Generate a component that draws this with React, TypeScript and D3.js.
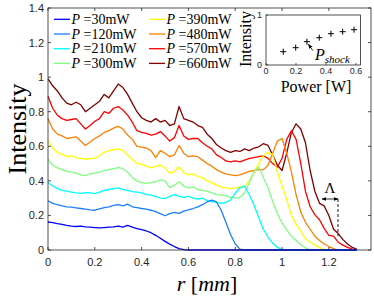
import React from 'react';
import * as d3 from 'd3';

// radial position of each sample [mm]
const radius = [
  0, 0.02, 0.04, 0.06, 0.08, 0.1, 0.12, 0.14, 0.16, 0.18,
  0.2, 0.22, 0.24, 0.26, 0.28, 0.3, 0.32, 0.34, 0.36, 0.38,
  0.4, 0.42, 0.44, 0.46, 0.48, 0.5, 0.52, 0.54, 0.56, 0.58,
  0.6, 0.62, 0.64, 0.66, 0.68, 0.7, 0.72, 0.74, 0.76, 0.78,
  0.8, 0.82, 0.84, 0.86, 0.88, 0.9, 0.92, 0.94, 0.96, 0.98,
  1, 1.02, 1.04, 1.06, 1.08, 1.1, 1.12, 1.14, 1.16, 1.18,
  1.2, 1.22, 1.24, 1.26, 1.28, 1.3, 1.32,
];

// intensity profiles, one per pump power
const p30 = [
  0.162, 0.158, 0.152, 0.148, 0.142, 0.138, 0.136, 0.138, 0.134, 0.132,
  0.13, 0.128, 0.13, 0.132, 0.134, 0.138, 0.132, 0.142, 0.132, 0.124,
  0.118, 0.11, 0.1, 0.085, 0.068, 0.05, 0.034, 0.02, 0.008, 0.002,
  0, 0, 0, 0, 0, 0, 0, 0, 0, 0,
  0, 0, 0, 0, 0, 0, 0, 0, 0, 0,
  0, 0, 0, 0, 0, 0, 0, 0, 0, 0,
  0, 0, 0, 0, 0, 0, 0,
];
const p120 = [
  0.285, 0.27, 0.262, 0.255, 0.25, 0.248, 0.244, 0.24, 0.236, 0.232,
  0.23, 0.238, 0.245, 0.25, 0.258, 0.262, 0.255, 0.265, 0.25, 0.245,
  0.24, 0.236, 0.23, 0.222, 0.21, 0.198, 0.21, 0.218, 0.212, 0.225,
  0.232, 0.24, 0.25, 0.262, 0.278, 0.288, 0.278, 0.23, 0.16, 0.09,
  0.035, 0.005, 0, 0, 0, 0, 0, 0, 0, 0,
  0, 0, 0, 0, 0, 0, 0, 0, 0, 0,
  0, 0, 0, 0, 0, 0, 0,
];
const p210 = [
  0.39, 0.37, 0.355, 0.345, 0.34, 0.335, 0.33, 0.328, 0.332, 0.33,
  0.326, 0.335, 0.345, 0.35, 0.355, 0.36, 0.35, 0.345, 0.338, 0.335,
  0.33, 0.32, 0.318, 0.31, 0.3, 0.298, 0.31, 0.32, 0.31, 0.305,
  0.31, 0.3, 0.295, 0.3, 0.285, 0.28, 0.275, 0.27, 0.275, 0.29,
  0.33, 0.36, 0.37, 0.32, 0.26, 0.19, 0.12, 0.075, 0.04, 0.015,
  0.003, 0, 0, 0, 0, 0, 0, 0, 0, 0,
  0, 0, 0, 0, 0, 0, 0,
];
const p300 = [
  0.525, 0.49, 0.475, 0.465, 0.455, 0.45, 0.445, 0.435, 0.43, 0.44,
  0.445, 0.45, 0.46, 0.465, 0.47, 0.478, 0.47, 0.45, 0.42, 0.4,
  0.39, 0.385, 0.39, 0.395, 0.405, 0.4, 0.36, 0.375, 0.395, 0.37,
  0.36, 0.365, 0.35, 0.345, 0.34, 0.33, 0.32, 0.318, 0.315, 0.305,
  0.3, 0.305, 0.33, 0.39, 0.45, 0.48, 0.42, 0.36, 0.28, 0.21,
  0.155, 0.115, 0.08, 0.055, 0.03, 0.012, 0, 0, 0, 0,
  0, 0, 0, 0, 0, 0, 0,
];
const p390 = [
  0.635, 0.59, 0.565, 0.555, 0.54, 0.545, 0.535, 0.53, 0.525, 0.53,
  0.53, 0.545, 0.565, 0.575, 0.58, 0.585, 0.575, 0.55, 0.525, 0.5,
  0.495, 0.485, 0.475, 0.485, 0.49, 0.475, 0.445, 0.455, 0.48, 0.45,
  0.435, 0.44, 0.425, 0.42, 0.4, 0.39, 0.375, 0.365, 0.36, 0.355,
  0.36, 0.365, 0.37, 0.4, 0.45, 0.5, 0.545, 0.565, 0.55, 0.45,
  0.37, 0.29, 0.2, 0.15, 0.11, 0.065, 0.045, 0.03, 0.015, 0.003,
  0, 0, 0, 0, 0, 0, 0,
];
const p480 = [
  0.76, 0.7, 0.67, 0.66, 0.645, 0.65, 0.655, 0.63, 0.605, 0.625,
  0.645, 0.66, 0.68, 0.69, 0.705, 0.715, 0.7, 0.665, 0.64, 0.6,
  0.595, 0.59, 0.575, 0.535, 0.575, 0.56, 0.54, 0.55, 0.605, 0.56,
  0.54, 0.545, 0.54, 0.52, 0.5, 0.485, 0.465, 0.45, 0.44, 0.435,
  0.43, 0.435, 0.445, 0.455, 0.46, 0.465, 0.465, 0.49, 0.56, 0.63,
  0.645, 0.56, 0.45, 0.32, 0.22, 0.16, 0.12, 0.08, 0.055, 0.035,
  0.02, 0.008, 0, 0, 0, 0, 0,
];
const p570 = [
  0.89, 0.82, 0.78, 0.76, 0.75, 0.755, 0.76, 0.73, 0.7, 0.72,
  0.745, 0.76, 0.8, 0.79, 0.82, 0.83, 0.81, 0.78, 0.74, 0.69,
  0.68, 0.675, 0.665, 0.67, 0.685, 0.66, 0.63, 0.65, 0.72, 0.66,
  0.64, 0.645, 0.645, 0.62, 0.6, 0.585, 0.55, 0.535, 0.515, 0.51,
  0.515, 0.51, 0.52, 0.53, 0.535, 0.54, 0.545, 0.53, 0.5, 0.48,
  0.53, 0.64, 0.69, 0.64, 0.5, 0.34, 0.25, 0.205, 0.175, 0.125,
  0.085, 0.08, 0.045, 0.028, 0.015, 0.005, 0,
];
const p660 = [
  0.99, 0.95, 0.92, 0.88, 0.85, 0.84, 0.855, 0.84, 0.8, 0.82,
  0.84, 0.86, 0.9, 0.88, 0.92, 0.96, 0.94, 0.9, 0.85, 0.8,
  0.765, 0.75, 0.74, 0.76, 0.74, 0.75, 0.72, 0.73, 0.83, 0.76,
  0.75, 0.74, 0.72, 0.71, 0.67, 0.645, 0.61, 0.59, 0.575, 0.565,
  0.575, 0.57, 0.585, 0.575, 0.59, 0.597, 0.615, 0.605, 0.55, 0.49,
  0.46, 0.56, 0.68, 0.73, 0.7, 0.62, 0.46, 0.34, 0.27, 0.255,
  0.2, 0.12, 0.095, 0.06, 0.035, 0.015, 0.004,
];

const powerLabels = ['30', '120', '210', '300', '390', '480', '570', '660'];
const profiles = [p30, p120, p210, p300, p390, p480, p570, p660];
const colors = ['#0000ff', '#1a80ff', '#00ffff', '#80ff80', '#ffff00', '#ff8000', '#ff0000', '#800000'];

const xTicks = [0, 0.2, 0.4, 0.6, 0.8, 1, 1.2];
const yTicks = [0, 0.2, 0.4, 0.6, 0.8, 1, 1.2, 1.4];

// inset: shock intensity vs power
const insetPower = [0.115, 0.198, 0.273, 0.355, 0.433, 0.511, 0.587];
const insetIntensity = [0.266, 0.346, 0.466, 0.546, 0.626, 0.666, 0.706];
const insetXTicks = [0, 0.2, 0.4, 0.6];
const insetYTicks = [0, 1];

// Lambda marker (data coords)
const lambdaR = [1.171, 1.239];
const lambdaI = [0.295, 0.08];

const SANS = '"Liberation Sans", Arial, sans-serif';
const SERIF = '"Liberation Serif", "Times New Roman", serif';
const AX = '#262626';

export default function App() {
  const W = 374;
  const H = 301;
  const x = d3.scaleLinear().domain([0, 1.38]).range([48, 371]);
  const y = d3.scaleLinear().domain([0, 1.4]).range([250, 8]);
  const ix = d3.scaleLinear().domain([0, 0.63]).range([266, 360.5]);
  const iy = d3.scaleLinear().domain([0, 1]).range([65, 15]);

  const line = d3.line<number>()
    .x((_, i) => x(radius[i]))
    .y(d => y(d));

  const [x0, x1] = x.range();
  const [y0, y1] = y.range();
  const [ix0, ix1] = ix.range();
  const [iy0, iy1] = iy.range();

  // draw high power first so the low power traces sit on top at the baseline
  const order = d3.range(profiles.length).reverse();

  return (
    <svg width={W} height={H} style={{ position: 'absolute', left: 0, top: 0, background: '#fff' }}>
      <defs>
        <marker id="ah" viewBox="0 0 10 10" refX="9" refY="5" markerWidth="6" markerHeight="6" orient="auto-start-reverse">
          <path d="M0,1 L10,5 L0,9 z" fill="#000" />
        </marker>
      </defs>

      {order.map(k => (
        <path key={k} d={line(profiles[k]) || ''} fill="none" stroke={colors[k]} strokeWidth={1.3} strokeLinejoin="round" />
      ))}

      {/* frame and inward ticks */}
      <rect x={x0} y={y1} width={x1 - x0} height={y0 - y1} fill="none" stroke={AX} strokeWidth={0.8} />
      {xTicks.map(t => (
        <g key={'xt' + t}>
          <line x1={x(t)} x2={x(t)} y1={y0} y2={y0 - 3} stroke={AX} strokeWidth={0.8} />
          <line x1={x(t)} x2={x(t)} y1={y1} y2={y1 + 3} stroke={AX} strokeWidth={0.8} />
          <text x={x(t)} y={y0 + 16} textAnchor="middle" fontFamily={SANS} fontSize={11} fill={AX}>{String(t)}</text>
        </g>
      ))}
      {yTicks.map(t => (
        <g key={'yt' + t}>
          <line x1={x0} x2={x0 + 3} y1={y(t)} y2={y(t)} stroke={AX} strokeWidth={0.8} />
          <line x1={x1} x2={x1 - 3} y1={y(t)} y2={y(t)} stroke={AX} strokeWidth={0.8} />
          <text x={x0 - 4} y={y(t) + 4} textAnchor="end" fontFamily={SANS} fontSize={11} fill={AX}>{String(t)}</text>
        </g>
      ))}

      <text transform={`translate(26,129) rotate(-90)`} textAnchor="middle" fontFamily={SERIF} fontSize={26} fill="#000">Intensity</text>
      <text x={207} y={291} textAnchor="middle" fontFamily={SERIF} fontSize={22} fill="#000">
        <tspan fontStyle="italic">r</tspan>
        <tspan>{' ['}</tspan>
        <tspan fontStyle="italic">mm</tspan>
        <tspan>]</tspan>
      </text>

      {/* legend */}
      {powerLabels.map((p, k) => {
        const col = Math.floor(k / 4);
        const row = k % 4;
        const lx = col === 0 ? 54 : 149;
        const ly = 19.3 + row * 14.7;
        return (
          <g key={'lg' + p}>
            <line x1={lx} x2={lx + 16} y1={ly} y2={ly} stroke={colors[k]} strokeWidth={1.3} />
            <text x={lx + 17.5} y={ly + 4.5} fontFamily={SERIF} fontSize={14} fill="#000">
              <tspan fontStyle="italic">P</tspan>
              <tspan>{' =' + p + 'mW'}</tspan>
            </text>
          </g>
        );
      })}

      {/* Lambda annotation */}
      <line x1={x(lambdaR[0])} x2={x(lambdaR[1])} y1={y(lambdaI[0])} y2={y(lambdaI[0])} stroke="#000" strokeWidth={0.8}
        markerStart="url(#ah)" markerEnd="url(#ah)" />
      <line x1={x(lambdaR[1])} x2={x(lambdaR[1])} y1={y(lambdaI[0])} y2={y(lambdaI[1])} stroke="#000" strokeWidth={0.9} strokeDasharray="3,2" />
      <text x={x((lambdaR[0] + lambdaR[1]) / 2)} y={y(lambdaI[0]) - 6} textAnchor="middle" fontFamily={SERIF} fontSize={15} fill="#000">Λ</text>

      {/* inset */}
      <rect x={ix0} y={iy1} width={ix1 - ix0} height={iy0 - iy1} fill="#fff" stroke={AX} strokeWidth={0.8} />
      {insetXTicks.map(t => (
        <g key={'ixt' + t}>
          <line x1={ix(t)} x2={ix(t)} y1={iy0} y2={iy0 - 2} stroke={AX} strokeWidth={0.7} />
          <text x={ix(t)} y={iy0 + 9} textAnchor="middle" fontFamily={SANS} fontSize={9} fill={AX}>{String(t)}</text>
        </g>
      ))}
      {insetYTicks.map(t => (
        <g key={'iyt' + t}>
          <line x1={ix0} x2={ix0 + 2} y1={iy(t)} y2={iy(t)} stroke={AX} strokeWidth={0.7} />
          <text x={ix0 - 4} y={iy(t) + 3} textAnchor="end" fontFamily={SANS} fontSize={9} fill={AX}>{String(t)}</text>
        </g>
      ))}
      {insetPower.map((p, i) => (
        <path key={'pt' + i} d={`M${ix(p) - 3},${iy(insetIntensity[i])}h6M${ix(p)},${iy(insetIntensity[i]) - 3}v6`} stroke="#000" strokeWidth={1} />
      ))}
      <line x1={ix(insetPower[2]) + 6} y1={iy(insetIntensity[2]) + 9} x2={ix(insetPower[2]) + 1.5} y2={iy(insetIntensity[2]) + 2.5}
        stroke="#000" strokeWidth={0.8} markerEnd="url(#ah)" />
      <text x={315} y={59.5} fontFamily={SERIF} fontSize={16} fontStyle="italic" fill="#000">
        P<tspan fontSize={11} dy={3}>shock</tspan>
      </text>
      <text transform={`translate(251,39) rotate(-90)`} textAnchor="middle" fontFamily={SERIF} fontSize={16} fill="#000">Intensity</text>
      <text x={316} y={92} textAnchor="middle" fontFamily={SERIF} fontSize={16} fill="#000">Power [W]</text>
    </svg>
  );
}
